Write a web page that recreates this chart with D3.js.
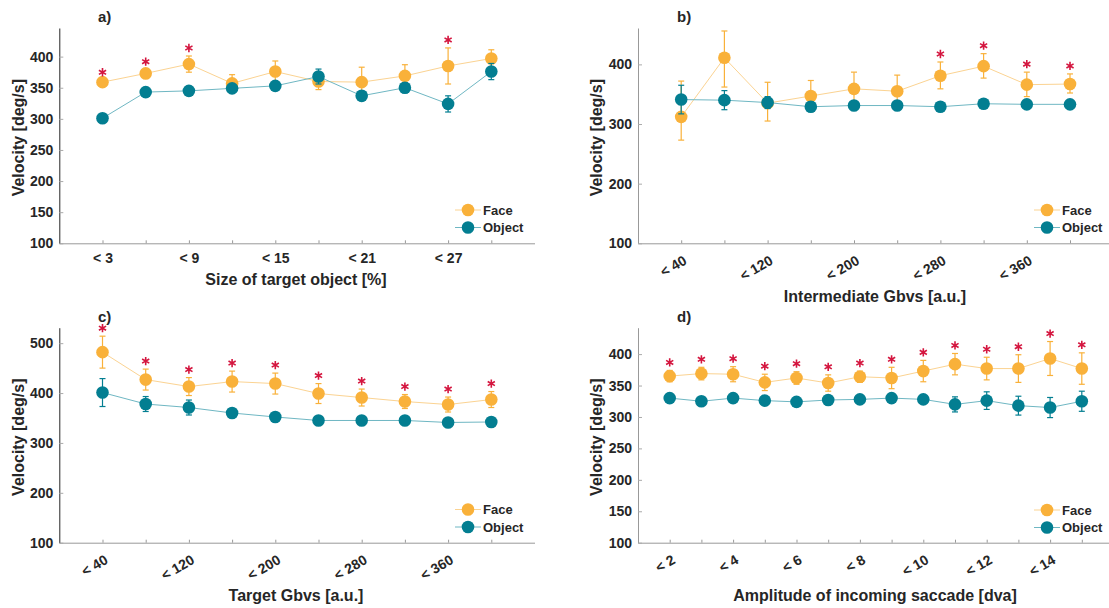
<!DOCTYPE html>
<html>
<head>
<meta charset="utf-8">
<script src="https://cdn.jsdelivr.net/npm/d3@7"></script>
<style>
  body { margin: 0; background: #fff; }
  text { font-family: "Liberation Sans", Arial, sans-serif; font-weight: bold; fill: #262626; }
</style>
</head>
<body>
<svg id="chart" width="1109" height="608"></svg>
<script>
// a) size of target object
const sizeCats = ["< 3", "< 6", "< 9", "< 12", "< 15", "< 18", "< 21", "< 24", "< 27", "< 30"];
const sizeFace = [359, 373, 388, 357, 376, 360, 359, 369, 385, 397];
const sizeFaceErr = [3, 6, 13, 14, 17, 13, 24, 18, 29, 14];
const sizeObj = [301, 343, 345, 349, 353, 368, 337, 350, 324, 376];
const sizeObjErr = [3, 4, 3, 5, 5, 12, 7, 8, 13, 13];
const sizeStars = [1, 1, 1, 0, 0, 0, 0, 0, 1, 0];

// b) intermediate gbvs (face bars are not symmetric here)
const gbvsCats = ["< 40", "< 80", "< 120", "< 160", "< 200", "< 240", "< 280", "< 320", "< 360", "< 400"];
const interFace = [312, 411, 335, 347, 359, 355, 381, 397, 366, 367];
const interFaceLo = [39, 49, 30, 26, 28, 27, 22, 20, 20, 15];
const interFaceHi = [60, 45, 35, 26, 28, 27, 23, 21, 21, 17];
const interObj = [341, 340, 336, 329, 331, 331, 329, 334, 333, 333];
const interObjErr = [24, 16, 10, 8, 5, 4, 4, 5, 5, 4];
const interStars = [0, 0, 0, 0, 0, 0, 1, 1, 1, 1];

// c) target gbvs
const targetFace = [482, 427, 413, 423, 419, 399, 391, 383, 377, 387];
const targetFaceErr = [32, 21, 18, 21, 21, 20, 17, 14, 15, 16];
const targetObj = [401, 378, 371, 360, 352, 345, 345, 345, 341, 342];
const targetObjErr = [28, 15, 15, 5, 4, 4, 4, 4, 4, 4];
const targetStars = [1, 1, 1, 1, 1, 1, 1, 1, 1, 1];

// d) amplitude of incoming saccade
const ampCats = ["< 2", "< 3", "< 4", "< 5", "< 6", "< 7", "< 8", "< 9", "< 10", "< 11", "< 12", "< 13", "< 14", "< 15"];
const ampFace = [365, 369, 368, 355, 362, 354, 364, 362, 373, 384, 377, 377, 393, 377];
const ampFaceErr = [9, 10, 12, 13, 10, 13, 9, 17, 17, 17, 18, 22, 27, 25];
const ampObj = [330, 325, 330, 326, 324, 327, 328, 330, 328, 320, 326, 318, 315, 325];
const ampObjErr = [4, 4, 4, 5, 5, 5, 5, 6, 5, 12, 14, 15, 16, 16];
const ampStars = [1, 1, 1, 1, 1, 1, 1, 1, 1, 1, 1, 1, 1, 1];

const yTicks50 = [100, 150, 200, 250, 300, 350, 400];
const yTicks100 = [100, 200, 300, 400];
const yTicks100c = [100, 200, 300, 400, 500];

const faceColor = "#F9B13A";
const objColor = "#037E91";
const starColor = "#D4163F";

const svg = d3.select("#chart");

function drawPanel(p) {
  const g = svg.append("g");
  const n = p.cats.length;
  const x = d3.scaleLinear().domain([0, n + 1]).range([p.left, p.right]);
  const y = d3.scaleLinear().domain(p.yDomain).range([p.bottom, p.top]);

  // x axis
  const xAxis = d3.axisBottom(x)
    .tickValues(d3.range(1, n + 1))
    .tickSizeInner(-3)
    .tickSizeOuter(0)
    .tickPadding(10)
    .tickFormat(i => (i % 2 === 1 ? p.cats[i - 1] : ""));
  const gx = g.append("g").attr("transform", `translate(0,${p.bottom})`).call(xAxis);
  gx.select(".domain").attr("stroke", "#999");
  gx.selectAll(".tick line").attr("stroke", "#999");
  gx.selectAll("text").style("font-size", "14px").attr("fill", "#262626");
  if (p.rotate) {
    gx.selectAll("text")
      .attr("x", 0).attr("y", 0).attr("dy", 0)
      .attr("text-anchor", "end")
      .attr("transform", "translate(6,20) rotate(-30)");
  }

  // y axis
  const yAxis = d3.axisLeft(y)
    .tickValues(p.yTicks)
    .tickSizeInner(-4)
    .tickSizeOuter(0)
    .tickPadding(6);
  const gy = g.append("g").attr("transform", `translate(${p.left},0)`).call(yAxis);
  gy.select(".domain").attr("stroke", p.yAxisColor);
  gy.selectAll(".tick line").attr("stroke", "#aaa");
  gy.selectAll("text").style("font-size", "14px").attr("fill", "#262626");

  // labels
  g.append("text").attr("x", p.titleX).attr("y", p.top - 6)
    .style("font-size", "15px").text(p.title);
  g.append("text")
    .attr("transform", `translate(${p.yLabelX},${(p.top + p.bottom) / 2 + 2}) rotate(-90)`)
    .attr("text-anchor", "middle").attr("dy", "0.35em")
    .style("font-size", "16px").text("Velocity [deg/s]");
  g.append("text").attr("x", p.xLabelX).attr("y", p.xLabelY)
    .attr("text-anchor", "middle").attr("dy", "0.35em")
    .style("font-size", "16px").text(p.xLabel);

  const series = [
    { vals: p.face, lo: p.faceLo, hi: p.faceHi, color: faceColor, lineColor: "#FBD392" },
    { vals: p.obj, lo: p.objErr, hi: p.objErr, color: objColor, lineColor: "#6FB7C3" }
  ];

  const line = d3.line().x((d, i) => x(i + 1)).y(d => y(d));

  series.forEach(s => {
    g.append("path").datum(s.vals)
      .attr("fill", "none").attr("stroke", s.lineColor)
      .attr("stroke-width", 1).attr("d", line);

    const eb = g.append("g").attr("stroke", s.color).attr("stroke-width", 1.2);
    s.vals.forEach((v, i) => {
      const cx = x(i + 1);
      const y1 = y(v - s.lo[i]);
      const y2 = y(v + s.hi[i]);
      eb.append("line").attr("x1", cx).attr("x2", cx).attr("y1", y1).attr("y2", y2);
      eb.append("line").attr("x1", cx - 3).attr("x2", cx + 3).attr("y1", y1).attr("y2", y1);
      eb.append("line").attr("x1", cx - 3).attr("x2", cx + 3).attr("y1", y2).attr("y2", y2);
    });

    g.append("g").selectAll("circle").data(s.vals).join("circle")
      .attr("cx", (d, i) => x(i + 1))
      .attr("cy", d => y(d))
      .attr("r", 6.3)
      .attr("fill", s.color);
  });

  // significance stars above the face error bars
  const star = d3.symbol(d3.symbolAsterisk, 48);
  p.stars.forEach((s, i) => {
    if (!s) return;
    const top = y(p.face[i] + p.faceHi[i]) - 8;
    g.append("path").attr("d", star())
      .attr("transform", `translate(${x(i + 1)},${top})`)
      .attr("fill", "none").attr("stroke", starColor).attr("stroke-width", 1.6);
  });

  // legend
  const lg = g.append("g").attr("transform", `translate(${p.legendX},${p.legendY})`);
  lg.append("line").attr("x1", -13).attr("x2", 13).attr("y1", 0).attr("y2", 0)
    .attr("stroke", "#FBD392").attr("stroke-width", 1);
  lg.append("circle").attr("r", 6.3).attr("fill", faceColor);
  lg.append("text").attr("x", 15).attr("dy", "0.35em").style("font-size", "13px").text("Face");
  lg.append("line").attr("x1", -13).attr("x2", 13).attr("y1", 17.5).attr("y2", 17.5)
    .attr("stroke", "#6FB7C3").attr("stroke-width", 1);
  lg.append("circle").attr("cy", 17.5).attr("r", 6.3).attr("fill", objColor);
  lg.append("text").attr("x", 15).attr("y", 17.5).attr("dy", "0.35em").style("font-size", "13px").text("Object");
}

drawPanel({
  title: "a)", titleX: 98, cats: sizeCats,
  face: sizeFace, faceLo: sizeFaceErr, faceHi: sizeFaceErr,
  obj: sizeObj, objErr: sizeObjErr, stars: sizeStars,
  left: 59.3, right: 534.5, top: 28, bottom: 243.3,
  yDomain: [100, 446], yTicks: yTicks50, yAxisColor: "#262626",
  rotate: false, yLabelX: 18, xLabel: "Size of target object [%]", xLabelX: 296, xLabelY: 279,
  legendX: 468, legendY: 210
});

drawPanel({
  title: "b)", titleX: 677, cats: gbvsCats,
  face: interFace, faceLo: interFaceLo, faceHi: interFaceHi,
  obj: interObj, objErr: interObjErr, stars: interStars,
  left: 638, right: 1113.2, top: 28, bottom: 243.3,
  yDomain: [100, 461], yTicks: yTicks100, yAxisColor: "#999",
  rotate: true, yLabelX: 596, xLabel: "Intermediate Gbvs [a.u.]", xLabelX: 875, xLabelY: 296,
  legendX: 1047, legendY: 210
});

drawPanel({
  title: "c)", titleX: 98, cats: gbvsCats,
  face: targetFace, faceLo: targetFaceErr, faceHi: targetFaceErr,
  obj: targetObj, objErr: targetObjErr, stars: targetStars,
  left: 59.3, right: 534.5, top: 327.7, bottom: 542.7,
  yDomain: [100, 531], yTicks: yTicks100c, yAxisColor: "#262626",
  rotate: true, yLabelX: 18, xLabel: "Target Gbvs [a.u.]", xLabelX: 296, xLabelY: 595,
  legendX: 468, legendY: 509.5
});

drawPanel({
  title: "d)", titleX: 677, cats: ampCats,
  face: ampFace, faceLo: ampFaceErr, faceHi: ampFaceErr,
  obj: ampObj, objErr: ampObjErr, stars: ampStars,
  left: 638, right: 1113.5, top: 327.7, bottom: 542.7,
  yDomain: [100, 442], yTicks: yTicks50, yAxisColor: "#999",
  rotate: true, yLabelX: 596, xLabel: "Amplitude of incoming saccade [dva]", xLabelX: 875, xLabelY: 595,
  legendX: 1047, legendY: 510
});
</script>
</body>
</html>
